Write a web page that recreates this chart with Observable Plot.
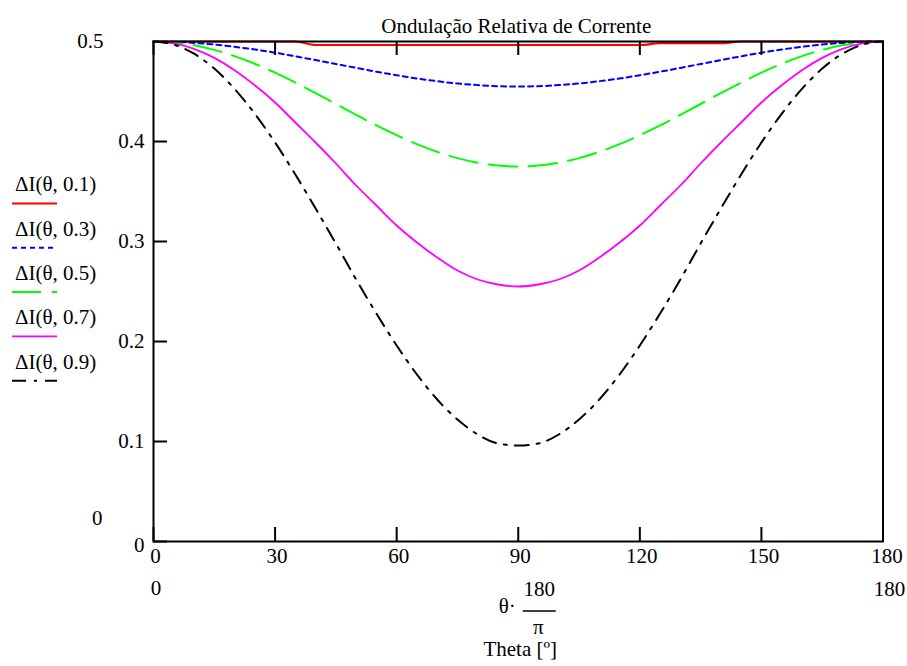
<!DOCTYPE html>
<html><head><meta charset="utf-8">
<script src="https://cdn.jsdelivr.net/npm/d3@7"></script>
<script src="https://cdn.jsdelivr.net/npm/@observablehq/plot@0.6"></script>
<style>body{margin:0;background:#fff;} #chart{position:relative;width:907px;height:666px;}</style>
</head><body><div id="chart"></div>
<script>
const theta = [0,5,10,15,20,25,30,35,40,45,50,55,60,65,70,75,80,85,90,95,100,105,110,115,120,125,130,135,140,145,150,155,160,165,170,175,180];
const dI01 = [0.5,0.5,0.5,0.5,0.5,0.5,0.5,0.5,0.4965,0.4965,0.4965,0.4965,0.4965,0.4965,0.4965,0.4965,0.4965,0.4965,0.4965,0.4965,0.4965,0.4965,0.4965,0.4965,0.4965,0.4983,0.4983,0.4983,0.4983,0.5,0.5,0.5,0.5,0.5,0.5,0.5,0.5];
const dI03 = [0.5,0.4997,0.4986,0.497,0.4947,0.492,0.4888,0.4852,0.4814,0.4775,0.4736,0.4698,0.4663,0.463,0.4603,0.458,0.4564,0.4553,0.455,0.4553,0.4564,0.458,0.4603,0.463,0.4663,0.4698,0.4736,0.4775,0.4814,0.4852,0.4888,0.492,0.4947,0.497,0.4986,0.4997,0.5];
const dI05 = [0.5,0.499,0.4962,0.4916,0.4854,0.4777,0.4688,0.4589,0.4484,0.4375,0.4267,0.4161,0.4063,0.3973,0.3896,0.3834,0.3788,0.376,0.375,0.376,0.3788,0.3834,0.3896,0.3973,0.4063,0.4161,0.4267,0.4375,0.4484,0.4589,0.4688,0.4777,0.4854,0.4916,0.4962,0.499,0.5];
const dI07 = [0.5,0.4981,0.4926,0.4836,0.4713,0.4562,0.439,0.419,0.399,0.378,0.356,0.336,0.316,0.299,0.284,0.271,0.262,0.257,0.255,0.257,0.262,0.271,0.284,0.299,0.316,0.336,0.356,0.378,0.399,0.419,0.439,0.4562,0.4713,0.4836,0.4926,0.4981,0.5];
const dI09 = [0.5,0.4969,0.4878,0.4729,0.4526,0.4277,0.399,0.367,0.333,0.298,0.262,0.228,0.196,0.167,0.142,0.122,0.107,0.098,0.096,0.098,0.107,0.122,0.142,0.167,0.196,0.228,0.262,0.298,0.333,0.367,0.399,0.4277,0.4526,0.4729,0.4878,0.4969,0.5];
const seriesNames = ["ΔI(θ, 0.1)","ΔI(θ, 0.3)","ΔI(θ, 0.5)","ΔI(θ, 0.7)","ΔI(θ, 0.9)"];
const xTicks = [0,30,60,90,120,150,180];
const yTicks = [0,0.1,0.2,0.3,0.4];
const xLimits = [0,180];
const yLimits = [0,0.5];
const titleText = "Ondulação Relativa de Corrente";
const xLabelParts = ["θ·","180","π"];
const xTitle = "Theta [º]";

// styles (kept separate from data)
const styles = [
  {stroke:"#ff0000", dash:null, width:2.2},
  {stroke:"#0000ff", dash:"5,4", width:2},
  {stroke:"#00ff00", dash:"29,11", width:2},
  {stroke:"#ff00ff", dash:null, width:1.8},
  {stroke:"#000000", dash:"14,8,3,8", width:2}
];
const allSeries = [dI01,dI03,dI05,dI07,dI09];
const W = 907, H = 666, mL = 153, mR = 24.5, mT = 41, mB = 125;
const fw = W - mL - mR, fh = H - mT - mB;
const font = "'Liberation Serif','Times New Roman',serif";
const fs = "21px";

const lineMarks = allSeries.map((arr,k) => {
  const rows = theta.map((t,i)=>({t, v: arr[i]}));
  const s = styles[k];
  return Plot.line(rows, {x:"t", y:"v", stroke:s.stroke, strokeWidth:s.width, strokeDasharray:s.dash ?? undefined, curve:"monotone-x"});
});

const plot = Plot.plot({
  width: W, height: H,
  marginLeft: mL, marginRight: mR, marginTop: mT, marginBottom: mB,
  x: {domain: xLimits, axis: null},
  y: {domain: yLimits, axis: null},
  style: {fontFamily: font, fontSize: fs, background: "white", color: "black"},
  marks: [
    ...lineMarks,
    Plot.frame({stroke:"black", strokeWidth:2}),
    Plot.tickX(xTicks, {x:d=>d, insetTop: fh-14, stroke:"black", strokeWidth:2}),
    Plot.tickX(xTicks, {x:d=>d, insetBottom: fh-14, stroke:"black", strokeWidth:2}),
    Plot.tickY(yTicks, {y:d=>d, insetRight: fw-14, stroke:"black", strokeWidth:2}),
    Plot.text(yTicks.filter(d=>d>0), {y:d=>d, frameAnchor:"left", textAnchor:"end", dx:-9, text:d=>String(d)}),
    Plot.text([yLimits[0]], {y:d=>d, frameAnchor:"left", textAnchor:"end", dx:-9, dy:4, text:d=>String(d)}),
    Plot.text([yLimits[1]], {y:d=>d, frameAnchor:"left", textAnchor:"end", dx:-50, text:d=>String(d)}),
    Plot.text([yLimits[0]], {y:d=>d, frameAnchor:"left", textAnchor:"end", dx:-51, dy:-23, text:d=>String(d)}),
    Plot.text(xTicks.filter(d=>d<180), {x:d=>d, frameAnchor:"bottom", dy:21, dx:2, text:d=>String(d)}),
    Plot.text([180], {x:d=>d, frameAnchor:"bottom", dy:21, dx:4, text:d=>String(d)}),
    Plot.text([xLimits[0]], {x:d=>d, frameAnchor:"bottom", dy:53, dx:2.5, text:d=>String(d)}),
    Plot.text([xLimits[1]], {x:d=>d, frameAnchor:"bottom", dy:54, dx:6.5, text:d=>String(d)}),
    Plot.text([90], {x:d=>d, frameAnchor:"bottom", dy:71, dx:-11, text:()=>xLabelParts[0]}),
    Plot.text([90], {x:d=>d, frameAnchor:"bottom", dy:54, dx:21, text:()=>xLabelParts[1]}),
    Plot.text([90], {x:d=>d, frameAnchor:"bottom", dy:92, dx:20, text:()=>xLabelParts[2]}),
    Plot.text([90], {x:d=>d, frameAnchor:"bottom", dy:114, dx:2, text:()=>xTitle}),
    Plot.text([90], {x:d=>d, frameAnchor:"top", dy:-23, dx:-2, text:()=>titleText})
  ]
});
document.getElementById("chart").appendChild(plot);

// fraction bar and legend
const svg = d3.select(plot);
const xs = plot.scale("x");
const xm = xs.apply(90);
svg.append("line").attr("x1", xm+5).attr("x2", xm+38).attr("y1", H-mB+70).attr("y2", H-mB+70)
  .attr("stroke","black").attr("stroke-width",1.5);
const lg = svg.append("g").attr("text-anchor","start");
seriesNames.forEach((name,k) => {
  const y0 = 184 + k*44.3;
  lg.append("text").attr("x",15).attr("y",y0).attr("dy","0.35em").attr("text-anchor","start")
    .style("font-family",font).style("font-size",fs).text(name);
  const s = styles[k];
  const l = lg.append("line").attr("x1",12).attr("x2",57).attr("y1",y0+19.5).attr("y2",y0+19.5)
    .attr("stroke",s.stroke).attr("stroke-width",s.width);
  if (s.dash) l.attr("stroke-dasharray", s.dash);
});
</script>
</body></html>
